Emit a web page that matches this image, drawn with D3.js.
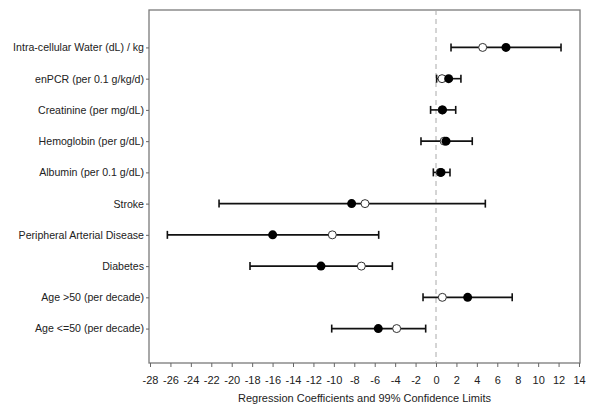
<!DOCTYPE html>
<html><head><meta charset="utf-8">
<script src="https://cdn.jsdelivr.net/npm/d3@7"></script>
<style>body{margin:0;background:#fff}svg{display:block}text{font-family:"Liberation Sans",Arial,sans-serif;}</style>
</head><body><svg id="c" width="600" height="410"></svg>
<script>
const categories = ["Intra-cellular Water (dL) / kg","enPCR (per 0.1 g/kg/d)","Creatinine (per mg/dL)","Hemoglobin (per g/dL)","Albumin (per 0.1 g/dL)","Stroke","Peripheral Arterial Disease","Diabetes","Age >50 (per decade)","Age <=50 (per decade)"];
const estimate = [6.85, 1.24, 0.64, 0.98, 0.49, -8.26, -15.99, -11.26, 3.1, -5.65];
const lower = [1.47, 0.06, -0.53, -1.47, -0.26, -21.24, -26.3, -18.21, -1.27, -10.21];
const upper = [12.24, 2.44, 1.93, 3.55, 1.37, 4.83, -5.61, -4.27, 7.46, -1.01];
const unadjusted = [4.57, 0.59, 0.6, 0.8, 0.4, -6.95, -10.15, -7.31, 0.62, -3.85];
const xTicks = d3.range(-28, 15, 2);
const xLabel = "Regression Coefficients and 99% Confidence Limits";

const svg = d3.select("#c");
const L = 149, R = 580, T = 10, B = 363;
const x = d3.scaleLinear().domain([-28, 14]).range([150, 579]);
const y = d3.scalePoint().domain(categories).range([T + 1.5, B + 1.5]).padding(1.15);

// frame
svg.append("rect").attr("x", L).attr("y", T).attr("width", R - L).attr("height", B - T)
  .attr("fill", "none").attr("stroke", "#7a7a7a").attr("stroke-width", 1.3);

// zero reference
svg.append("line").attr("x1", x(0)).attr("x2", x(0)).attr("y1", T).attr("y2", B)
  .attr("stroke", "#aaa").attr("stroke-width", 1).attr("stroke-dasharray", "5,4");

// x axis
const xa = svg.append("g").attr("transform", `translate(0,${B})`)
  .call(d3.axisBottom(x).tickValues(xTicks).tickSize(4).tickPadding(9).tickFormat(d3.format("d")));
xa.select(".domain").remove();
xa.selectAll("line").attr("stroke", "#666");
xa.selectAll("text").attr("font-size", 11).attr("fill", "#222").text(d => d < 0 ? "-" + Math.abs(d) : d);

svg.append("text").attr("x", (150 + 579) / 2).attr("y", 402).attr("text-anchor", "middle")
  .attr("font-size", 11).attr("fill", "#222").text(xLabel);

// y axis
const ya = svg.append("g").attr("transform", `translate(${L},0)`)
  .call(d3.axisLeft(y).tickSize(3).tickPadding(2));
ya.select(".domain").remove();
ya.selectAll("line").attr("stroke", "#666");
ya.selectAll("text").attr("font-size", 10.6).attr("fill", "#222");

// CI bars
const rows = categories.map((c, i) => ({c, e: estimate[i], lo: lower[i], hi: upper[i], u: unadjusted[i]}));
const g = svg.append("g");
g.selectAll(".ci").data(rows).join("line")
  .attr("x1", d => x(d.lo)).attr("x2", d => x(d.hi))
  .attr("y1", d => y(d.c)).attr("y2", d => y(d.c))
  .attr("stroke", "#111").attr("stroke-width", 1.6);
g.selectAll(".capl").data(rows).join("line")
  .attr("x1", d => x(d.lo)).attr("x2", d => x(d.lo))
  .attr("y1", d => y(d.c) - 4).attr("y2", d => y(d.c) + 4)
  .attr("stroke", "#111").attr("stroke-width", 1.6);
g.selectAll(".capr").data(rows).join("line")
  .attr("x1", d => x(d.hi)).attr("x2", d => x(d.hi))
  .attr("y1", d => y(d.c) - 4).attr("y2", d => y(d.c) + 4)
  .attr("stroke", "#111").attr("stroke-width", 1.6);
g.selectAll(".open").data(rows).join("circle")
  .attr("cx", d => x(d.u)).attr("cy", d => y(d.c)).attr("r", 4)
  .attr("fill", "#fff").attr("stroke", "#333").attr("stroke-width", 1);
g.selectAll(".fill").data(rows).join("circle")
  .attr("cx", d => x(d.e)).attr("cy", d => y(d.c)).attr("r", 4.5)
  .attr("fill", "#000");
</script></body></html>
